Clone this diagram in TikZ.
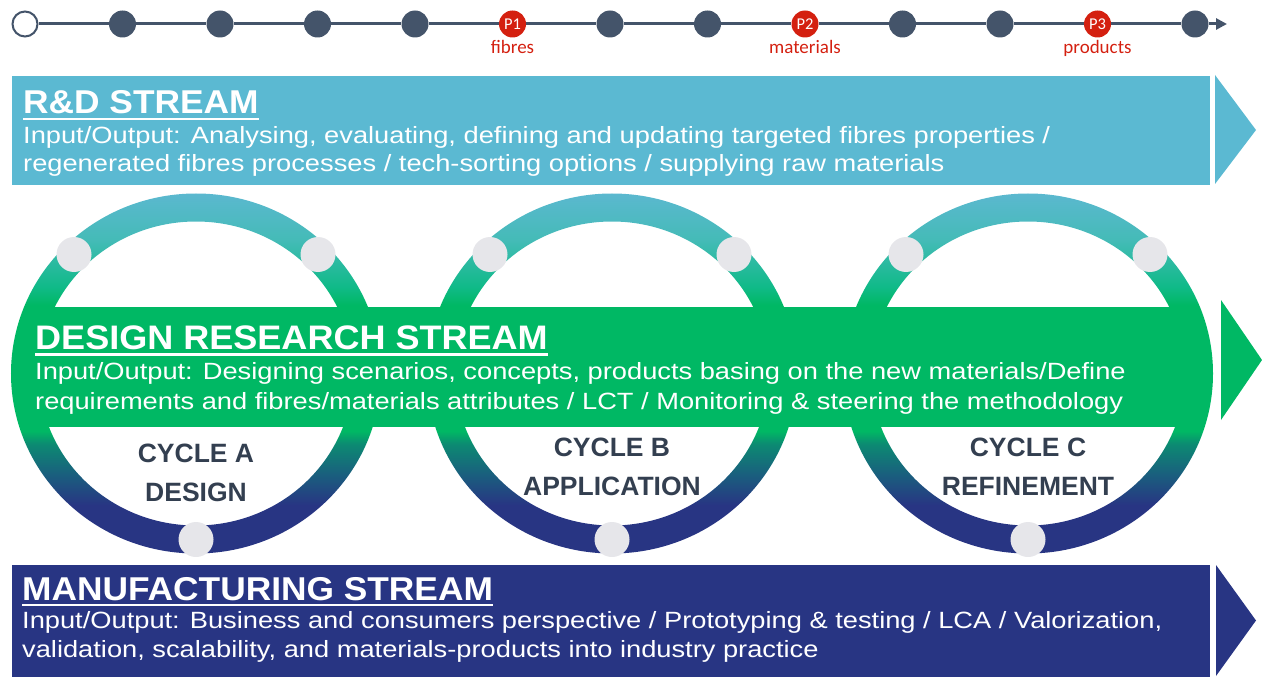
\documentclass[tikz,border=0pt]{standalone}
\usepackage{fontspec}
\setmainfont{Liberation Sans}
\newfontfamily\bodyf[FakeStretch=1.16]{Liberation Sans}
\newfontfamily\titlef[FakeStretch=1.07]{Liberation Sans}
\newfontfamily\dtitlef[FakeStretch=1.06]{Liberation Sans}
\newfontfamily\calf{Carlito}
\usetikzlibrary{arrows.meta,calc}
\definecolor{rdblue}{HTML}{5BB9D2}
\definecolor{dgreen}{HTML}{00B864}
\definecolor{navy}{HTML}{283583}
\definecolor{slate}{HTML}{44546A}
\definecolor{pred}{HTML}{D42010}
\definecolor{dotgrey}{HTML}{E6E6EA}
\definecolor{cyctext}{HTML}{333F50}
\definecolor{rtop}{HTML}{5BB8CF}
\definecolor{rc4}{HTML}{45BBB8}
\definecolor{rc3}{HTML}{10BA88}
\definecolor{rc2}{HTML}{0C8A72}
\definecolor{rc1}{HTML}{1A5E7E}
\pgfdeclareverticalshading{ringshade}{100bp}{color(0bp)=(navy); color(31.7bp)=(navy); color(35.9bp)=(rc1); color(40.2bp)=(rc2); color(42bp)=(dgreen); color(59.5bp)=(dgreen); color(62bp)=(rc3); color(68.7bp)=(rc4); color(75bp)=(rtop); color(100bp)=(rtop)}
\begin{document}
\begin{tikzpicture}[x=1bp,y=-1bp,
  bar/.style={draw=none, inner sep=0, outer sep=0, anchor=north west},
  tldot/.style={circle, fill=slate, minimum size=27bp, inner sep=0},
  pdot/.style={circle, fill=pred, minimum size=27bp, inner sep=0, text=white, font=\calf\fontsize{16.5bp}{16.5bp}\selectfont},
  plabel/.style={text=pred, font=\calf\fontsize{19bp}{19bp}\selectfont, inner sep=0, anchor=base},
  ringdot/.style={circle, fill=dotgrey, minimum size=35bp, inner sep=0},
  title/.style={anchor=base west, inner sep=0, text=white, font=\titlef\bfseries\fontsize{33bp}{33bp}\selectfont},
  dtitle/.style={anchor=base west, inner sep=0, text=white, font=\dtitlef\bfseries\fontsize{34bp}{34bp}\selectfont},
  body/.style={anchor=base west, inner sep=0, text=white, font=\bodyf\fontsize{23.5bp}{28.5bp}\selectfont},
  cyc/.style={text=cyctext, font=\bfseries\fontsize{26.5bp}{26.5bp}\selectfont, inner sep=0},
  uline/.style={white, line width=2.2bp},
  tline/.style={slate, line width=3bp}]
\useasboundingbox (0,0) rectangle (1262,677);
% timeline
\node[tldot, fill=white, draw=slate, line width=2bp, minimum size=25bp] (t0) at (25,24) {};
\foreach \i in {1,2,3,4,6,7,9,10,12} \node[tldot] (t\i) at ({25+97.5*\i},24) {};
\node[pdot] (t5) at (512.5,24) {P1};
\node[pdot] (t8) at (805,24) {P2};
\node[pdot] (t11) at (1097.5,24) {P3};
\coordinate (tend) at (1227,24);
\foreach \i [evaluate=\i as \j using int(\i+1)] in {0,...,11} \draw[tline] (t\i) -- (t\j);
\draw[tline, -{Triangle[length=11bp,width=11bp]}] (t12) -- (tend);
\node[plabel] (l1) at (512.5,53.5) {fibres};
\node[plabel] (l2) at (805,53.5) {materials};
\node[plabel] (l3) at (1097.5,53.5) {products};
% bars
\node[bar, fill=rdblue, minimum width=1198bp, minimum height=109bp] (rd) at (12,76) {};
\fill[rdblue] (1215,75) -- (1256,130) -- (1215,184) -- cycle;
\node[bar, fill=dgreen, minimum width=1165bp, minimum height=120bp] (ds) at (30,307) {};
\fill[dgreen] (1221,300) -- (1262,360) -- (1221,420) -- cycle;
\node[bar, fill=navy, minimum width=1198bp, minimum height=112bp] (mf) at (12,565) {};
\fill[navy] (1216,565) -- (1256,620.5) -- (1216,676) -- cycle;
% rings
\foreach \c/\n in {196/A,612/B,1028/C} {
  \coordinate (ring\n) at (\c,373.5);
  \shade[shading=ringshade, even odd rule] (ring\n) ellipse [x radius=185bp, y radius=180bp] (ring\n) ellipse [x radius=157bp, y radius=152bp];
  \node[ringdot] (d\n1) at ($(ring\n)+(-122,-119)$) {};
  \node[ringdot] (d\n2) at ($(ring\n)+(122,-119)$) {};
  \node[ringdot] (d\n3) at ($(ring\n)+(0,166)$) {};
}
% texts
\node[title] (rdt) at (23,113.5) {R\&D STREAM\hspace{12bp}};
\draw[uline] ($(rdt.base west)+(0,5.8)$) -- ($(rdt.base east)+(0,5.8)$);
\node[body] (rdb1) at (23,143.3) {Input/Output: Analysing, evaluating, defining and updating targeted fibres properties /};
\node[body] (rdb2) at (23,171.5) {regenerated fibres processes / tech-sorting options / supplying raw materials};
\node[dtitle] (dst) at (35,349.3) {DESIGN RESEARCH STREAM\hspace{12bp}};
\draw[uline] ($(dst.base west)+(0,5.2)$) -- ($(dst.base east)+(0,5.2)$);
\node[body] (dsb1) at (35,379.5) {Input/Output: Designing scenarios, concepts, products basing on the new materials/Define};
\node[body] (dsb2) at (35,409) {requirements and fibres/materials attributes / LCT / Monitoring \& steering the methodology};
\node[title] (mft) at (22,600) {MANUFACTURING STREAM};
\draw[uline] ($(mft.base west)+(0,4.6)$) -- ($(mft.base east)+(0,4.6)$);
\node[body] (mfb1) at (22,628.5) {Input/Output: Business and consumers perspective / Prototyping \& testing / LCA / Valorization,};
\node[body] (mfb2) at (22,657.5) {validation, scalability, and materials-products into industry practice};
% cycle labels
\node[cyc] (ca1) at (196,453) {CYCLE A};
\node[cyc] (ca2) at (196,492) {DESIGN};
\node[cyc] (cb1) at (612,447) {CYCLE B};
\node[cyc] (cb2) at (612,486) {APPLICATION};
\node[cyc] (cc1) at (1028,447) {CYCLE C};
\node[cyc] (cc2) at (1028,486) {REFINEMENT};
\end{tikzpicture}
\end{document}
